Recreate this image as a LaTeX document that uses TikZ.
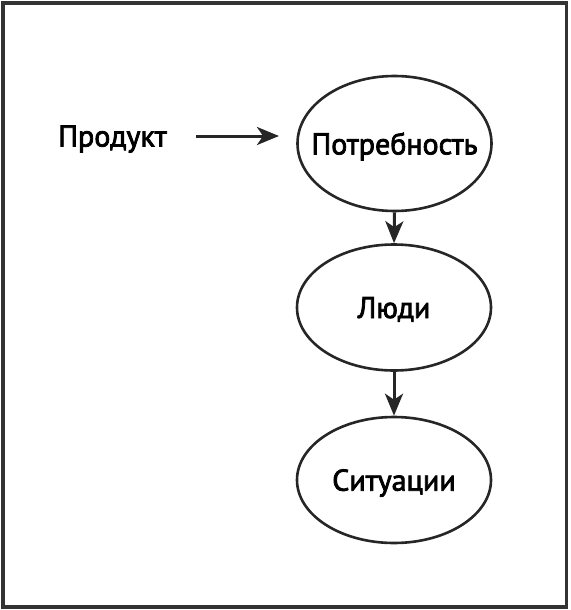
\documentclass[tikz,border=0pt]{standalone}
\usepackage{fontspec}
\setmainfont{PT Sans}
\newfontfamily\lblfont[FakeBold=2.6]{PT Sans}
\usetikzlibrary{arrows.meta,shapes.geometric}
\begin{document}
\begin{tikzpicture}[x=1pt,y=-1pt,
  oval/.style={draw=black!85, line width=2.6pt, ellipse, minimum width=194pt, minimum height=126pt, inner sep=-30pt, text depth=0pt, font=\lblfont\fontsize{30}{32}\selectfont},
  link/.style={draw=black!85, line width=3pt, -{Stealth[length=22pt,width=18pt,inset=6pt]}},
  lbl/.style={font=\lblfont\fontsize{30}{32}\selectfont, inner sep=0pt, text depth=0pt}]
\useasboundingbox (0,0) rectangle (570,610);
\draw[draw=black!80, line width=3.5pt] (3,3) rectangle (566.5,607);
\node[oval, minimum height=135pt] (n1) at (394.5,143.5) {Потребность};
\node[oval] (n2) at (394,307.5) {Люди};
\node[oval] (n3) at (394,480) {Ситуации};
\node[lbl] (p) at (112.5,136) {Продукт};
\coordinate (a0) at (196,136);
\coordinate (a1) at (279,136);
\draw[link] (a0) -- (a1);
\draw[link] (n1.south) -- (n2.north);
\draw[link] (n2.south) -- (n3.north);
\end{tikzpicture}
\end{document}
